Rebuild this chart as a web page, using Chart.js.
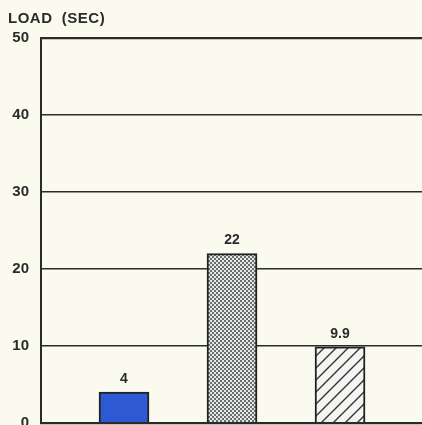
<!DOCTYPE html>
<html lang="en">
<head>
    <meta charset="UTF-8">
    <title>Load time</title>
    <script src="https://cdn.jsdelivr.net/npm/chart.js"></script>
    <style>
        html, body {
            margin: 0;
            padding: 0;
            background: #fafaef;
        }
        .wrap {
            position: relative;
            width: 422px;
            height: 425px;
            overflow: hidden;
        }
        .axis-title {
            position: absolute;
            left: 8px;
            top: 9px;
            font: bold 15px "Liberation Sans", Arial, sans-serif;
            color: #2b2b2b;
            letter-spacing: 0.5px;
            white-space: pre;
        }
    </style>
</head>
<body>
    <div class="wrap">
        <canvas id="loadChart" width="422" height="425"></canvas>
        <div class="axis-title">LOAD  (SEC)</div>
    </div>

    <script>
        // bar positions and load times
        const positions = [1, 2, 3];
        const loadSeconds = [4, 22, 9.9];
        const valueLabels = ['4', '22', '9.9'];
        const yTicks = [0, 10, 20, 30, 40, 50];

        const ink = '#2b2b2b';

        // dot screen for the middle bar
        function stipple() {
            const c = document.createElement('canvas');
            c.width = 4; c.height = 4;
            const g = c.getContext('2d');
            g.fillStyle = '#e4e8e6';
            g.fillRect(0, 0, 4, 4);
            g.fillStyle = '#3f4746';
            g.beginPath(); g.arc(1, 1, 1, 0, Math.PI * 2); g.fill();
            g.beginPath(); g.arc(3, 3, 1, 0, Math.PI * 2); g.fill();
            return g.createPattern(c, 'repeat');
        }

        // diagonal hatching for the right bar
        function hatch() {
            const s = 12;
            const c = document.createElement('canvas');
            c.width = s; c.height = s;
            const g = c.getContext('2d');
            g.fillStyle = '#f4f5f3';
            g.fillRect(0, 0, s, s);
            g.strokeStyle = '#333';
            g.lineWidth = 1.4;
            g.beginPath();
            g.moveTo(-2, s + 2); g.lineTo(s + 2, -2);
            g.moveTo(-2, 2); g.lineTo(2, -2);
            g.moveTo(s - 2, s + 2); g.lineTo(s + 2, s - 2);
            g.stroke();
            return g.createPattern(c, 'repeat');
        }

        const barLabels = {
            id: 'barLabels',
            afterDatasetsDraw(chart) {
                const ctx = chart.ctx;
                const meta = chart.getDatasetMeta(0);
                ctx.save();
                ctx.font = 'bold 14px "Liberation Sans", Arial, sans-serif';
                ctx.fillStyle = ink;
                ctx.textAlign = 'center';
                ctx.textBaseline = 'bottom';
                meta.data.forEach((bar, i) => {
                    ctx.fillText(valueLabels[i], bar.x, bar.y - 6);
                });
                ctx.restore();
            }
        };

        const ctx = document.getElementById('loadChart').getContext('2d');
        new Chart(ctx, {
            type: 'bar',
            data: {
                datasets: [{
                    data: positions.map((x, i) => ({ x: x, y: loadSeconds[i] })),
                    backgroundColor: ['#2d5ad2', stipple(), hatch()],
                    borderColor: '#222',
                    borderWidth: 2,
                    barThickness: 50
                }]
            },
            options: {
                responsive: false,
                animation: false,
                layout: {
                    padding: { top: 38, right: 0, bottom: 2, left: 0 }
                },
                plugins: {
                    legend: { display: false },
                    tooltip: { enabled: false }
                },
                scales: {
                    x: {
                        type: 'linear',
                        display: false,
                        offset: false,
                        min: 0.2315,
                        max: 3.759
                    },
                    y: {
                        min: 0,
                        max: 50,
                        afterBuildTicks: (scale) => {
                            scale.ticks = yTicks.map(v => ({ value: v }));
                        },
                        afterFit: (scale) => {
                            scale.width = 41;
                            scale.paddingTop = 0;
                            scale.paddingBottom = 0;
                        },
                        ticks: {
                            color: ink,
                            padding: 12,
                            font: { family: '"Liberation Sans", Arial, sans-serif', size: 15, weight: 'bold' }
                        },
                        grid: {
                            color: ink,
                            drawTicks: false,
                            lineWidth: (c) => (c.tick && (c.tick.value === 0 || c.tick.value === 50)) ? 2.2 : 1.6
                        },
                        border: {
                            display: true,
                            color: ink,
                            width: 2
                        }
                    }
                }
            },
            plugins: [barLabels]
        });
    </script>
</body>
</html>
